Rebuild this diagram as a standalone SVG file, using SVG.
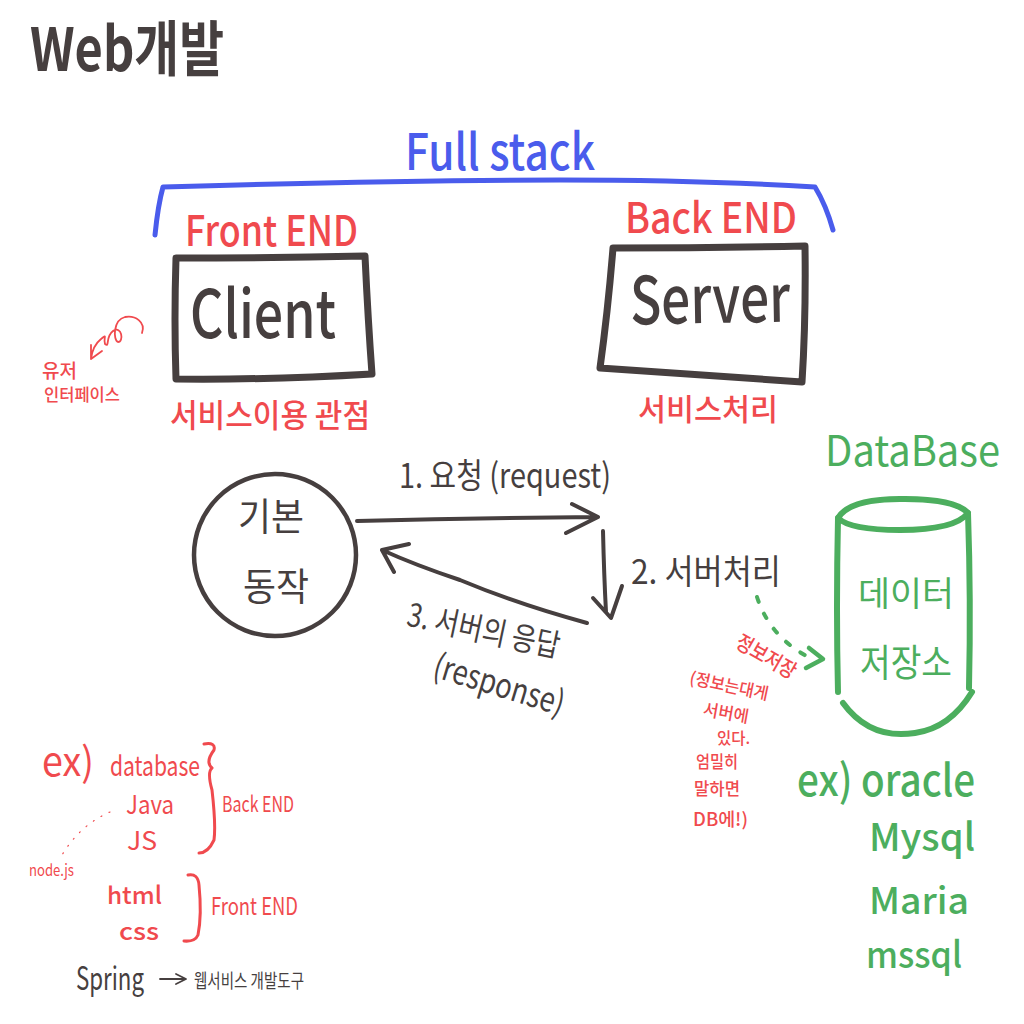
<svg xmlns="http://www.w3.org/2000/svg" width="1024" height="1024" viewBox="0 0 1024 1024">
<style>
text{font-family:"Noto Sans CJK KR","Noto Sans",sans-serif}
.k{fill:#463f3f}.r{fill:#f04a4e}.g{fill:#4cae5e}.b{fill:#4a5cec}
.s{fill:none;stroke-linecap:round;stroke-linejoin:round}
.sk{stroke:#463f3f}.sr{stroke:#f04a4e}.sg{stroke:#4cae5e}.sb{stroke:#4a5cec}
</style>
<rect width="1024" height="1024" fill="#fff"/>
<g id="title"><text class="k" x="30" y="71" font-size="60" font-weight="700" textLength="194" lengthAdjust="spacingAndGlyphs">Web개발</text></g>
<g id="fullstack">
<text class="b" x="405" y="170" font-size="50" font-weight="500" textLength="190" lengthAdjust="spacingAndGlyphs">Full stack</text>
<path class="s sb" stroke-width="5" d="M155 235Q158 205 163 187Q400 180 560 180Q700 180 815 187Q826 205 833 230"/>
</g>
<g id="frontend">
<text class="r" x="185" y="246" font-size="42" font-weight="500" textLength="173" lengthAdjust="spacingAndGlyphs">Front END</text>
<path class="s sk" stroke-width="7" d="M176 258Q270 258 365 256Q368 320 372 374Q270 380 176 379Q174 320 176 258Z"/>
<text class="k" x="190" y="338" font-size="66" font-weight="500" textLength="146" lengthAdjust="spacingAndGlyphs">Client</text>
<text class="r" x="170" y="427" font-size="32" font-weight="500" textLength="200" lengthAdjust="spacingAndGlyphs">서비스이용 관점</text>
</g>
<g id="backend">
<text class="r" x="625" y="233" font-size="42" font-weight="500" textLength="172" lengthAdjust="spacingAndGlyphs">Back END</text>
<path class="s sk" stroke-width="7" d="M613 248Q710 248 805 246Q806 320 802 382Q700 375 600 368Q608 310 613 248Z"/>
<text class="k" x="630" y="323" font-size="66" font-weight="500" textLength="160" lengthAdjust="spacingAndGlyphs" transform="rotate(-1 710 300)">Server</text>
<text class="r" x="638" y="420" font-size="30" font-weight="500" textLength="140" lengthAdjust="spacingAndGlyphs">서비스처리</text>
</g>
<g id="user-interface">
<text class="r" x="42" y="378" font-size="19" font-weight="500" textLength="35" lengthAdjust="spacingAndGlyphs">유저</text>
<text class="r" x="44" y="401" font-size="17" font-weight="500" textLength="76" lengthAdjust="spacingAndGlyphs">인터페이스</text>
<path class="s sr" stroke-width="1.8" d="M142 333C146 322 135 315 125 317C113 320 113 340 118 342C124 342 122 325 113 331C105 337 110 348 105 344C103 338 108 333 101 339C96 343 92 350 91 359M91 345L91 359L102 351"/>
</g>
<g id="basic-operation">
<circle cx="275" cy="555" r="81" fill="none" stroke="#463f3f" stroke-width="4.5"/>
<text class="k" x="238" y="530" font-size="38" textLength="66" lengthAdjust="spacingAndGlyphs">기본</text>
<text class="k" x="243" y="600" font-size="38" textLength="66" lengthAdjust="spacingAndGlyphs">동작</text>
</g>
<g id="connectors">
<path class="s sk" stroke-width="4" d="M357 521Q480 518 598 517M572 504L598 517L566 533"/>
<path class="s sk" stroke-width="4" d="M603 531Q604 575 606 612M593 598L611 618L622 586"/>
<path class="s sk" stroke-width="4" d="M587 623Q520 605 460 580Q415 565 382 550M409 544L382 550L394 572"/>
<path class="s sg" stroke-width="4" stroke-dasharray="5 13" d="M757 597Q770 638 812 659"/>
<path class="s sg" stroke-width="4.5" d="M809 648L823 659L806 668"/>
<path class="s sr" stroke-width="1.2" stroke-dasharray="1 8" d="M110 812Q80 825 62 855"/>
<path class="s sk" stroke-width="1.8" d="M160 979H185M176 974L186 979L176 984"/>
</g>
<g id="labels">
<text class="k" x="399" y="488" font-size="34" textLength="212" lengthAdjust="spacingAndGlyphs">1. 요청 (request)</text>
<text class="k" x="631" y="584" font-size="34" textLength="150" lengthAdjust="spacingAndGlyphs">2. 서버처리</text>
<text class="k" x="405" y="641" font-size="32" textLength="155" lengthAdjust="spacingAndGlyphs" transform="rotate(12 480 636)">3. 서버의 응답</text>
<text class="k" x="430" y="696" font-size="34" textLength="135" lengthAdjust="spacingAndGlyphs" transform="rotate(17 497 690)">(response)</text>
</g>
<g id="database">
<text class="g" x="825" y="466" font-size="42" textLength="175" lengthAdjust="spacingAndGlyphs">DataBase</text>
<path class="s sg" stroke-width="6" d="M838 518Q850 498 905 499Q955 499 968 513Q955 530 900 530Q850 530 838 518Z"/>
<path class="s sg" stroke-width="6" d="M838 518Q836 610 838 692M968 513Q971 600 969 688M843 703Q870 740 915 733Q950 728 972 692"/>
<text class="g" x="858" y="606" font-size="34" textLength="96" lengthAdjust="spacingAndGlyphs">데이터</text>
<text class="g" x="860" y="676" font-size="38" textLength="92" lengthAdjust="spacingAndGlyphs">저장소</text>
</g>
<g id="save-note">
<text class="r" x="733" y="664" font-size="21" font-weight="500" textLength="66" lengthAdjust="spacingAndGlyphs" transform="rotate(30 766 657)">정보저장</text>
<text class="r" x="689" y="692" font-size="17" font-weight="500" textLength="80" lengthAdjust="spacingAndGlyphs" transform="rotate(12 729 687)">(정보는대게</text>
<text class="r" x="703" y="719" font-size="17" font-weight="500" textLength="46" lengthAdjust="spacingAndGlyphs" transform="rotate(10 726 713)">서버에</text>
<text class="r" x="717" y="744" font-size="16" font-weight="500" textLength="33" lengthAdjust="spacingAndGlyphs">있다.</text>
<text class="r" x="696" y="768" font-size="17" font-weight="500" textLength="42" lengthAdjust="spacingAndGlyphs">엄밀히</text>
<text class="r" x="694" y="795" font-size="17" font-weight="500" textLength="46" lengthAdjust="spacingAndGlyphs">말하면</text>
<text class="r" x="693" y="826" font-size="18" font-weight="500" textLength="55" lengthAdjust="spacingAndGlyphs">DB에!)</text>
</g>
<g id="db-examples">
<text class="g" x="797" y="796" font-size="44" font-weight="500" textLength="178" lengthAdjust="spacingAndGlyphs">ex) oracle</text>
<text class="g" x="869" y="851" font-size="38" font-weight="500" textLength="106" lengthAdjust="spacingAndGlyphs">Mysql</text>
<text class="g" x="869" y="914" font-size="36" font-weight="500" textLength="100" lengthAdjust="spacingAndGlyphs">Maria</text>
<text class="g" x="866" y="968" font-size="36" font-weight="500" textLength="96" lengthAdjust="spacingAndGlyphs">mssql</text>
</g>
<g id="examples">
<text class="r" x="42" y="776" font-size="40" textLength="52" lengthAdjust="spacingAndGlyphs">ex)</text>
<text class="r" x="110" y="776" font-size="28" textLength="90" lengthAdjust="spacingAndGlyphs">database</text>
<text class="r" x="126" y="814" font-size="26" textLength="48" lengthAdjust="spacingAndGlyphs">Java</text>
<text class="r" x="127" y="850" font-size="26" textLength="30" lengthAdjust="spacingAndGlyphs">JS</text>
<text class="r" x="29" y="876" font-size="16" textLength="45" lengthAdjust="spacingAndGlyphs">node.js</text>
<text class="r" x="107" y="904" font-size="24" font-weight="500" textLength="55" lengthAdjust="spacingAndGlyphs">html</text>
<text class="r" x="119" y="940" font-size="24" font-weight="500" textLength="40" lengthAdjust="spacingAndGlyphs">css</text>
<text class="r" x="222" y="812" font-size="22" textLength="72" lengthAdjust="spacingAndGlyphs">Back END</text>
<text class="r" x="211" y="915" font-size="24" textLength="87" lengthAdjust="spacingAndGlyphs">Front END</text>
<path class="s sr" stroke-width="3" d="M204 744Q216 742 214 750Q205 762 212 768Q207 772 212 790Q216 825 214 840Q208 853 199 853"/>
<path class="s sr" stroke-width="3" d="M188 875Q198 873 199 885Q202 915 198 935Q195 942 184 941"/>
</g>
<g id="spring">
<text class="k" x="76" y="990" font-size="32" textLength="68" lengthAdjust="spacingAndGlyphs">Spring</text>
<text class="k" x="194" y="988" font-size="19" textLength="110" lengthAdjust="spacingAndGlyphs">웹서비스 개발도구</text>
</g>
</svg>
